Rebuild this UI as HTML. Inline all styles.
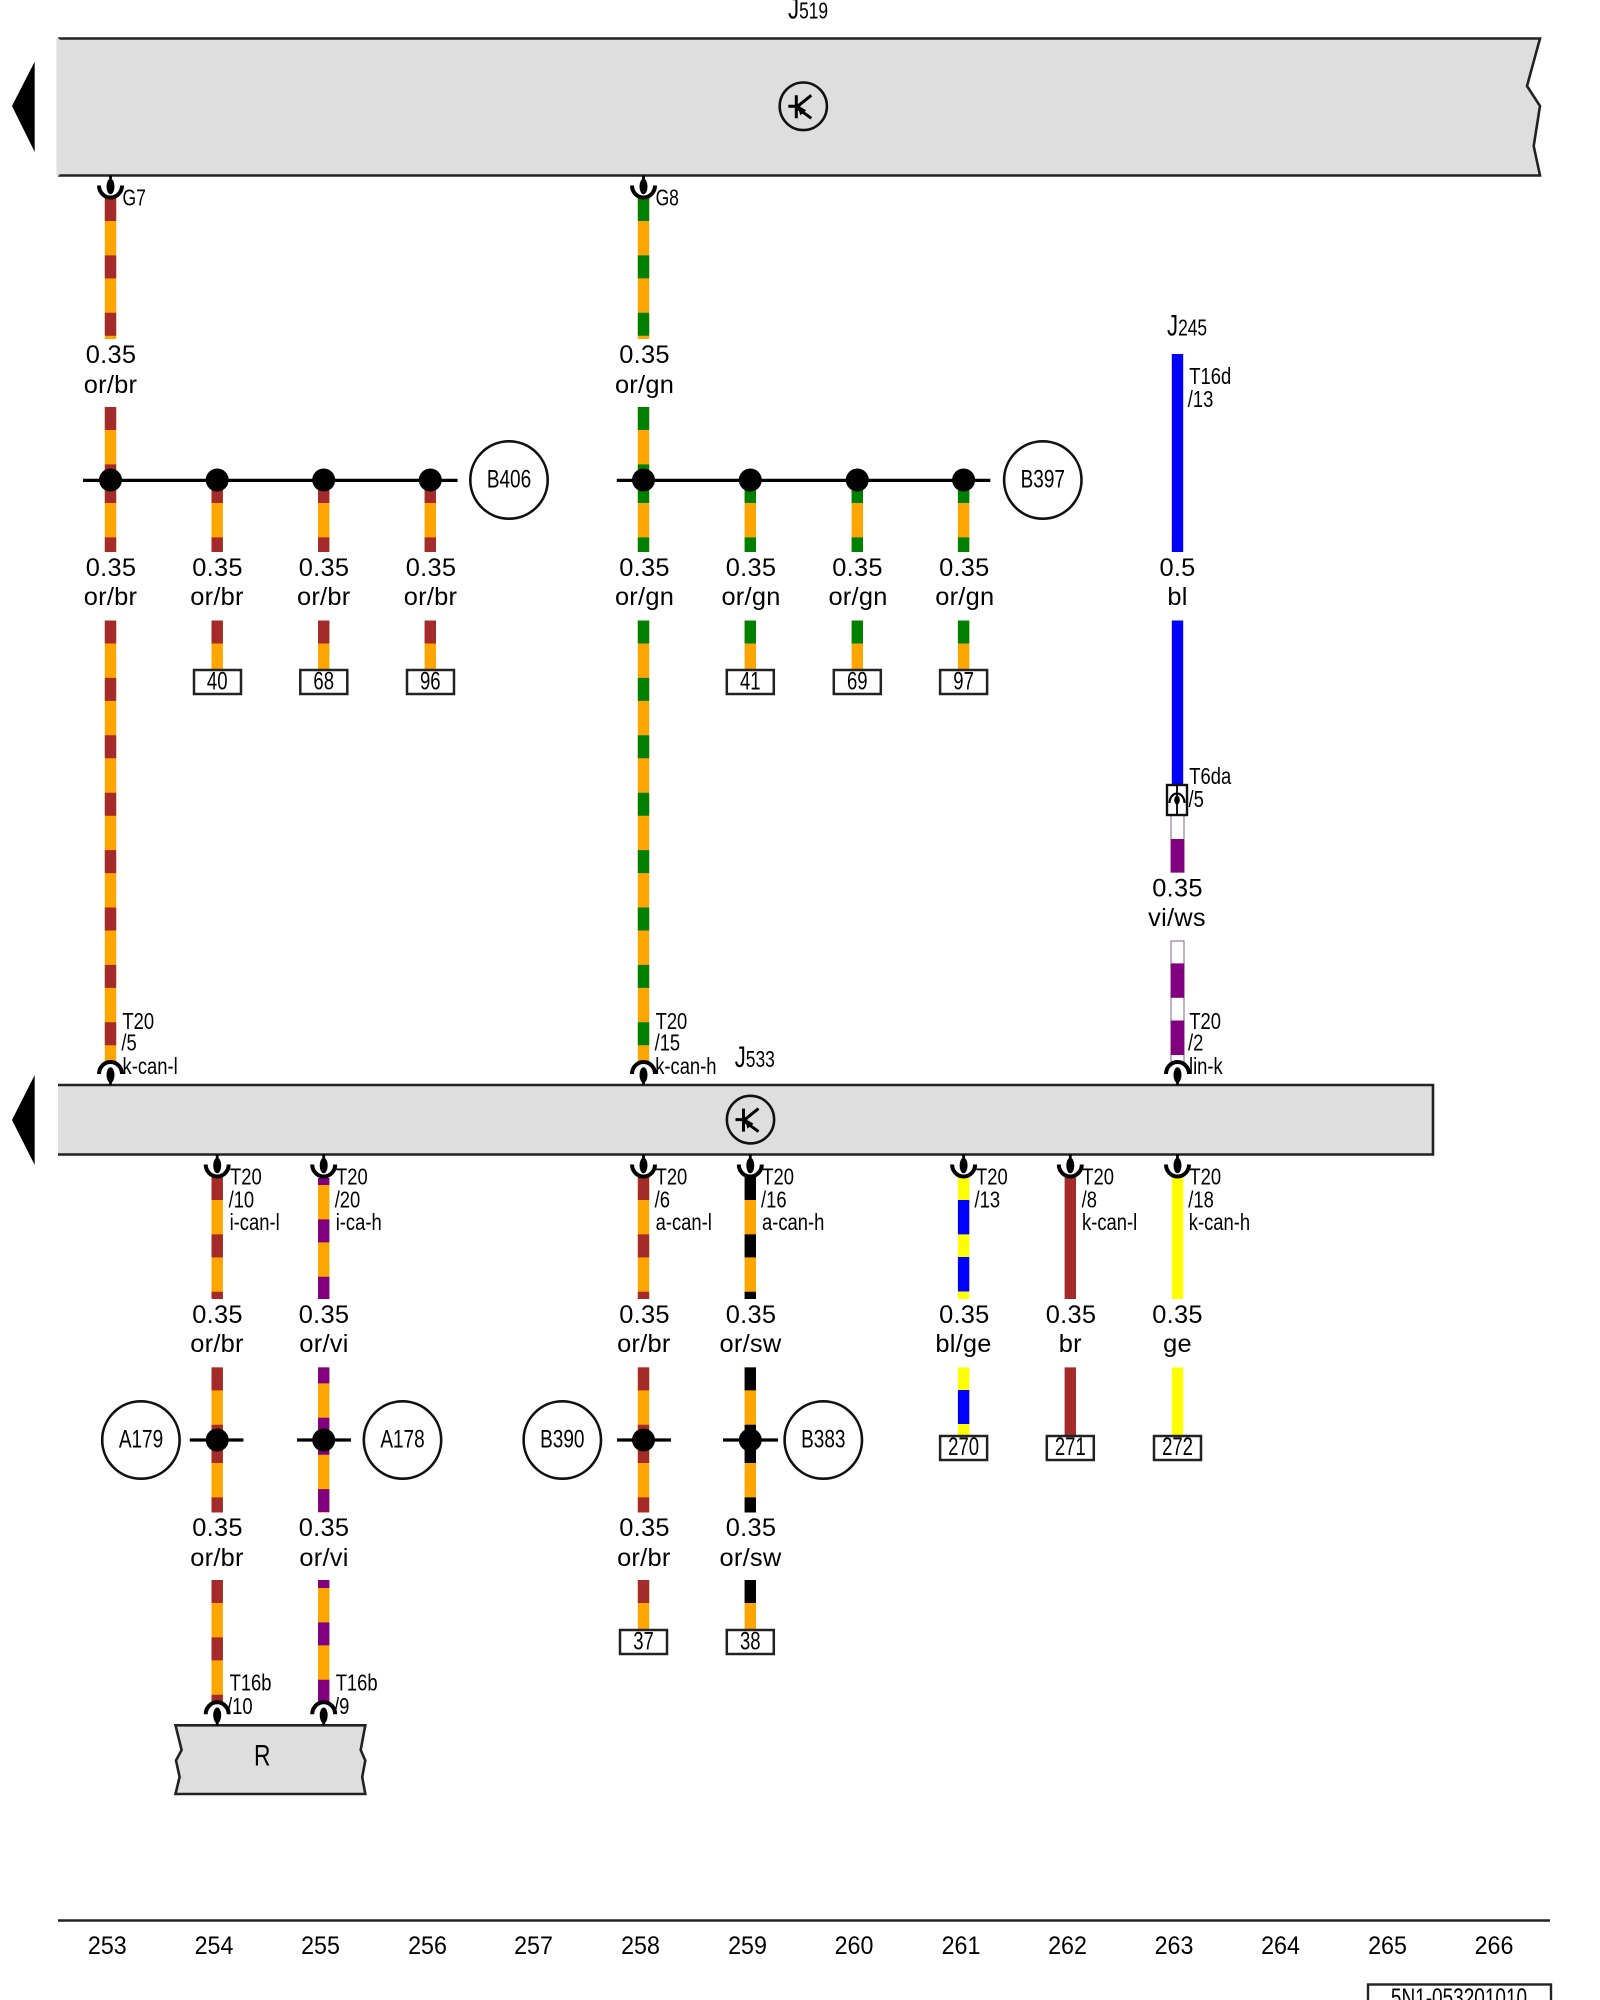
<!DOCTYPE html>
<html>
<head>
<meta charset="utf-8">
<style>
html,body{margin:0;padding:0;background:#fff}
svg{display:block}
text{font-family:"Liberation Sans",sans-serif;fill:#000}
.t{font-size:25.4px;text-anchor:middle;letter-spacing:.25px}
.s{font-size:23px}
.n{font-size:25px;text-anchor:middle}
.f{font-size:25px;text-anchor:middle}
.j{font-size:30px}
line.w{stroke-width:11.4}
.o{stroke:#ffa500}.b{stroke:#a52a2a}.g{stroke:#008000}.v{stroke:#800080}.k{stroke:#000}.y{stroke:#ffff00}.u{stroke:#0000ff}
.d{stroke-dasharray:23 34.4}
.box{fill:#fff;stroke:#222;stroke-width:2.5}
.c{fill:#fff;stroke:#111;stroke-width:2.6}
.bar{fill:#dedede;stroke:#222;stroke-width:2.6}
.bus{stroke:#000;stroke-width:3.2}
</style>
</head>
<body>
<svg width="1600" height="2000" viewBox="0 0 1600 2000" xmlns="http://www.w3.org/2000/svg">
<defs>
<g id="cd"><line x1="0" y1="0" x2="0" y2="10" stroke="#000" stroke-width="2.8"/><ellipse cx="0" cy="11" rx="4" ry="7.8" fill="#000"/><path d="M-11.5 10A11.5 12 0 0 0 11.5 10" fill="none" stroke="#000" stroke-width="4"/></g>
<g id="cu"><line x1="0" y1="0" x2="0" y2="-8" stroke="#000" stroke-width="2.8"/><ellipse cx="0" cy="-10" rx="4" ry="7.8" fill="#000"/><path d="M-11.5 -11A11.5 12 0 0 1 11.5 -11" fill="none" stroke="#000" stroke-width="4"/></g>
<g id="tr"><ellipse cx="0" cy="0" rx="23.6" ry="23.8" fill="none" stroke="#111" stroke-width="2.6"/><path d="M-15 0H-3M-7 -11V12M-7 1L8 -11M-7 1L8 12" fill="none" stroke="#000" stroke-width="3"/><path d="M-6 -1L3 4L-3 9z" fill="#000"/></g>
</defs>

<!-- bars -->
<path class="bar" d="M58 38.5H1540L1527 86L1540 106L1533.7 146L1540 175.5H58"/>
<line x1="58" y1="38.5" x2="58" y2="175.5" stroke="#dedede" stroke-width="3"/>
<path d="M12 106L34.7 61.6V152z" fill="#000"/>
<use href="#tr" x="803.3" y="106.3"/>
<path class="bar" d="M58 1085H1433V1154.5H58"/>
<path d="M12 1120L34.7 1075V1165z" fill="#000"/>
<use href="#tr" x="750.5" y="1119.6"/>
<path class="bar" d="M175.5 1725.3H365.3L360.7 1750L365.3 1760.5L362.2 1777L365.3 1794H175.5L179.6 1777L176 1760.5L181.6 1750z"/>

<!-- col 0 -->
<g transform="translate(110.5 0)" fill="none">
<line class="w o" y1="198" y2="339"/><line class="w b d" y1="198" y2="339"/>
<line class="w o" y1="407" y2="480"/><line class="w b d" y1="407" y2="480"/>
<line class="w o" y1="480" y2="552"/><line class="w b d" y1="480" y2="552"/>
<line class="w o" y1="620.5" y2="1062"/><line class="w b d" y1="620.5" y2="1062"/>
</g>
<!-- col 5 upper -->
<g transform="translate(643.5 0)">
<line class="w o" y1="198" y2="339"/><line class="w g d" y1="198" y2="339"/>
<line class="w o" y1="407" y2="480"/><line class="w g d" y1="407" y2="480"/>
<line class="w o" y1="480" y2="552"/><line class="w g d" y1="480" y2="552"/>
<line class="w o" y1="620.5" y2="1062"/><line class="w g d" y1="620.5" y2="1062"/>
</g>
<!-- short upper -->
<g transform="translate(217.2 0)"><line class="w o" y1="480" y2="552"/><line class="w b d" y1="480" y2="552"/><line class="w o" y1="620.5" y2="670"/><line class="w b d" y1="620.5" y2="670"/></g>
<g transform="translate(323.7 0)"><line class="w o" y1="480" y2="552"/><line class="w b d" y1="480" y2="552"/><line class="w o" y1="620.5" y2="670"/><line class="w b d" y1="620.5" y2="670"/></g>
<g transform="translate(430.3 0)"><line class="w o" y1="480" y2="552"/><line class="w b d" y1="480" y2="552"/><line class="w o" y1="620.5" y2="670"/><line class="w b d" y1="620.5" y2="670"/></g>
<g transform="translate(750.3 0)"><line class="w o" y1="480" y2="552"/><line class="w g d" y1="480" y2="552"/><line class="w o" y1="620.5" y2="670"/><line class="w g d" y1="620.5" y2="670"/></g>
<g transform="translate(857.3 0)"><line class="w o" y1="480" y2="552"/><line class="w g d" y1="480" y2="552"/><line class="w o" y1="620.5" y2="670"/><line class="w g d" y1="620.5" y2="670"/></g>
<g transform="translate(963.6 0)"><line class="w o" y1="480" y2="552"/><line class="w g d" y1="480" y2="552"/><line class="w o" y1="620.5" y2="670"/><line class="w g d" y1="620.5" y2="670"/></g>

<!-- col 10 upper -->
<g transform="translate(1177.5 0)">
<line class="w u" y1="354" y2="552"/><line class="w u" y1="620.5" y2="785"/>
</g>
<rect x="1171" y="815" width="13" height="57.3" fill="#fff" stroke="#806080" stroke-width="1"/>
<rect x="1170.7" y="839" width="13.6" height="33.3" fill="#800080"/>
<rect x="1171" y="941" width="13" height="121" fill="#fff" stroke="#806080" stroke-width="1"/>
<rect x="1170.7" y="963.4" width="13.6" height="34.4" fill="#800080"/>
<rect x="1170.7" y="1020.5" width="13.6" height="34.5" fill="#800080"/>
<rect x="1167" y="785" width="20" height="30" fill="#fff" stroke="#111" stroke-width="2.4"/>
<line x1="1177" y1="785" x2="1177" y2="815" stroke="#000" stroke-width="1.8"/>
<ellipse cx="1177" cy="800" rx="2.8" ry="4.5" fill="#000"/>
<path d="M1169.5 803A7.5 9.5 0 0 1 1184.5 803" fill="none" stroke="#000" stroke-width="2.2"/>

<!-- lower wires -->
<g transform="translate(217.2 0)">
<line class="w o" y1="1177" y2="1299"/><line class="w b d" y1="1177" y2="1299"/>
<line class="w o" y1="1367.4" y2="1440"/><line class="w b d" y1="1367.4" y2="1440"/>
<line class="w o" y1="1440" y2="1512.5"/><line class="w b d" y1="1440" y2="1512.5"/>
<line class="w o" y1="1580" y2="1702"/><line class="w b d" y1="1580" y2="1702"/>
</g>
<g transform="translate(323.7 0)">
<line class="w o" y1="1178" y2="1299"/><line class="w v d" y1="1178" y2="1299" style="stroke-dashoffset:16"/>
<line class="w o" y1="1367.4" y2="1440"/><line class="w v d" y1="1367.4" y2="1440" style="stroke-dashoffset:7"/>
<line class="w o" y1="1440" y2="1512.5"/><line class="w v d" y1="1440" y2="1512.5" style="stroke-dashoffset:8.3"/>
<line class="w o" y1="1580" y2="1702"/><line class="w v d" y1="1580" y2="1702" style="stroke-dashoffset:15"/>
</g>
<g transform="translate(643.5 0)">
<line class="w o" y1="1177" y2="1299"/><line class="w b d" y1="1177" y2="1299"/>
<line class="w o" y1="1367.4" y2="1440"/><line class="w b d" y1="1367.4" y2="1440"/>
<line class="w o" y1="1440" y2="1512.5"/><line class="w b d" y1="1440" y2="1512.5"/>
<line class="w o" y1="1580" y2="1630"/><line class="w b d" y1="1580" y2="1630"/>
</g>
<g transform="translate(750.3 0)">
<line class="w o" y1="1177" y2="1299"/><line class="w k d" y1="1177" y2="1299"/>
<line class="w o" y1="1367.4" y2="1440"/><line class="w k d" y1="1367.4" y2="1440"/>
<line class="w o" y1="1440" y2="1512.5"/><line class="w k d" y1="1440" y2="1512.5"/>
<line class="w o" y1="1580" y2="1630"/><line class="w k d" y1="1580" y2="1630"/>
</g>
<g transform="translate(963.6 0)">
<line class="w y" y1="1177" y2="1299"/>
<line class="w u" y1="1200" y2="1234.4"/><line class="w u" y1="1257" y2="1291.5"/>
<line class="w y" y1="1367.4" y2="1436"/><line class="w u" y1="1390" y2="1424"/>
</g>
<g transform="translate(1070.3 0)"><line class="w b" y1="1177" y2="1299"/><line class="w b" y1="1367.4" y2="1436"/></g>
<g transform="translate(1177.5 0)"><line class="w y" y1="1177" y2="1299"/><line class="w y" y1="1367.4" y2="1436"/></g>

<!-- connectors -->
<use href="#cd" x="110.5" y="175.5"/><use href="#cd" x="643.5" y="175.5"/>
<use href="#cu" x="110.5" y="1085"/><use href="#cu" x="643.5" y="1085"/><use href="#cu" x="1177.5" y="1085"/>
<use href="#cd" x="217.2" y="1154.5"/><use href="#cd" x="323.7" y="1154.5"/><use href="#cd" x="643.5" y="1154.5"/><use href="#cd" x="750.3" y="1154.5"/><use href="#cd" x="963.6" y="1154.5"/><use href="#cd" x="1070.3" y="1154.5"/><use href="#cd" x="1177.5" y="1154.5"/>
<use href="#cu" x="217.2" y="1725.3"/><use href="#cu" x="323.7" y="1725.3"/>

<!-- buses and nodes -->
<line class="bus" x1="83" y1="480.4" x2="457.6" y2="480.4"/>
<line class="bus" x1="616.8" y1="480.4" x2="990.3" y2="480.4"/>
<g fill="#000">
<circle cx="110.5" cy="480" r="11.5"/><circle cx="217.2" cy="480" r="11.5"/><circle cx="323.7" cy="480" r="11.5"/><circle cx="430.3" cy="480" r="11.5"/>
<circle cx="643.5" cy="480" r="11.5"/><circle cx="750.3" cy="480" r="11.5"/><circle cx="857.3" cy="480" r="11.5"/><circle cx="963.6" cy="480" r="11.5"/>
<circle cx="217.2" cy="1440" r="11.5"/><circle cx="323.7" cy="1440" r="11.5"/><circle cx="643.5" cy="1440" r="11.5"/><circle cx="750.3" cy="1440" r="11.5"/>
</g>
<line class="bus" x1="189.8" y1="1440" x2="243.4" y2="1440"/>
<line class="bus" x1="297" y1="1440" x2="351" y2="1440"/>
<line class="bus" x1="617" y1="1440" x2="671" y2="1440"/>
<line class="bus" x1="723" y1="1440" x2="778" y2="1440"/>

<!-- circles -->
<circle class="c" cx="509" cy="480" r="38.7"/>
<circle class="c" cx="1042.8" cy="480" r="38.7"/>
<circle class="c" cx="140.9" cy="1440" r="38.7"/>
<circle class="c" cx="402.5" cy="1440" r="38.7"/>
<circle class="c" cx="562.3" cy="1440" r="38.7"/>
<circle class="c" cx="823.3" cy="1440" r="38.7"/>
<text class="n" transform="translate(509 487.5) scale(.76 1)">B406</text>
<text class="n" transform="translate(1042.8 487.5) scale(.76 1)">B397</text>
<text class="n" transform="translate(141 1447.5) scale(.76 1)">A179</text>
<text class="n" transform="translate(402.5 1447.5) scale(.76 1)">A178</text>
<text class="n" transform="translate(562.3 1447.5) scale(.76 1)">B390</text>
<text class="n" transform="translate(823.3 1447.5) scale(.76 1)">B383</text>

<!-- number boxes -->
<rect class="box" x="194" y="670" width="47" height="24"/><text class="n" transform="translate(217.2 689.5) scale(.74 1)">40</text>
<rect class="box" x="300.3" y="670" width="47" height="24"/><text class="n" transform="translate(323.7 689.5) scale(.74 1)">68</text>
<rect class="box" x="407" y="670" width="47" height="24"/><text class="n" transform="translate(430.3 689.5) scale(.74 1)">96</text>
<rect class="box" x="726.8" y="670" width="47" height="24"/><text class="n" transform="translate(750.3 689.5) scale(.74 1)">41</text>
<rect class="box" x="833.8" y="670" width="47" height="24"/><text class="n" transform="translate(857.3 689.5) scale(.74 1)">69</text>
<rect class="box" x="940.1" y="670" width="47" height="24"/><text class="n" transform="translate(963.6 689.5) scale(.74 1)">97</text>
<rect class="box" x="620" y="1630" width="47" height="24"/><text class="n" transform="translate(643.5 1649.5) scale(.74 1)">37</text>
<rect class="box" x="726.8" y="1630" width="47" height="24"/><text class="n" transform="translate(750.3 1649.5) scale(.74 1)">38</text>
<rect class="box" x="940.1" y="1436" width="47" height="24"/><text class="n" transform="translate(963.6 1455) scale(.74 1)">270</text>
<rect class="box" x="1046.8" y="1436" width="47" height="24"/><text class="n" transform="translate(1070.3 1455) scale(.74 1)">271</text>
<rect class="box" x="1154" y="1436" width="47" height="24"/><text class="n" transform="translate(1177.5 1455) scale(.74 1)">272</text>

<!-- size/color labels -->
<text class="t" x="111" y="363">0.35</text><text class="t" x="110.5" y="393">or/br</text>
<text class="t" x="644.5" y="363">0.35</text><text class="t" x="644.5" y="393">or/gn</text>
<text class="t" x="111" y="576">0.35</text><text class="t" x="110.5" y="605.2">or/br</text>
<text class="t" x="217.5" y="576">0.35</text><text class="t" x="217" y="605.2">or/br</text>
<text class="t" x="324" y="576">0.35</text><text class="t" x="323.7" y="605.2">or/br</text>
<text class="t" x="431" y="576">0.35</text><text class="t" x="430.5" y="605.2">or/br</text>
<text class="t" x="644.5" y="576">0.35</text><text class="t" x="644.5" y="605.2">or/gn</text>
<text class="t" x="751" y="576">0.35</text><text class="t" x="751" y="605.2">or/gn</text>
<text class="t" x="857.5" y="576">0.35</text><text class="t" x="858" y="605.2">or/gn</text>
<text class="t" x="964.3" y="576">0.35</text><text class="t" x="964.8" y="605.2">or/gn</text>
<text class="t" x="1177.5" y="576">0.5</text><text class="t" x="1177.5" y="605.2">bl</text>
<text class="t" x="1177.5" y="896.4">0.35</text><text class="t" x="1177" y="926">vi/ws</text>
<text class="t" x="217.5" y="1322.8">0.35</text><text class="t" x="217" y="1351.8">or/br</text>
<text class="t" x="324" y="1322.8">0.35</text><text class="t" x="324" y="1351.8">or/vi</text>
<text class="t" x="644.5" y="1322.8">0.35</text><text class="t" x="643.8" y="1351.8">or/br</text>
<text class="t" x="751" y="1322.8">0.35</text><text class="t" x="750.5" y="1351.8">or/sw</text>
<text class="t" x="964.3" y="1322.8">0.35</text><text class="t" x="963.5" y="1351.8">bl/ge</text>
<text class="t" x="1071" y="1322.8">0.35</text><text class="t" x="1070.3" y="1351.8">br</text>
<text class="t" x="1177.5" y="1322.8">0.35</text><text class="t" x="1177.5" y="1351.8">ge</text>
<text class="t" x="217.5" y="1536">0.35</text><text class="t" x="217" y="1566">or/br</text>
<text class="t" x="324" y="1536">0.35</text><text class="t" x="324" y="1566">or/vi</text>
<text class="t" x="644.5" y="1536">0.35</text><text class="t" x="643.8" y="1566">or/br</text>
<text class="t" x="751" y="1536">0.35</text><text class="t" x="750.5" y="1566">or/sw</text>

<!-- component names -->
<text class="j" transform="translate(788 18.5) scale(.74 1)">J<tspan font-size="23.5">519</tspan></text>
<text class="j" transform="translate(1167 335.5) scale(.74 1)">J<tspan font-size="23.5">245</tspan></text>
<text class="j" transform="translate(734.7 1067) scale(.74 1)">J<tspan font-size="23.5">533</tspan></text>
<text font-size="30" transform="translate(254 1765.5) scale(.76 1)">R</text>

<!-- pin labels -->
<text class="s" transform="translate(122.5 205.5) scale(.76 1)">G7</text>
<text class="s" transform="translate(655.6 205.5) scale(.76 1)">G8</text>
<text class="s" transform="translate(1189.3 384) scale(.8 1)">T16d</text>
<text class="s" transform="translate(1187.8 407) scale(.8 1)">/13</text>
<text class="s" transform="translate(1189.3 784) scale(.8 1)">T6da</text>
<text class="s" transform="translate(1188.5 807) scale(.8 1)">/5</text>

<text class="s" transform="translate(122.4 1029) scale(.8 1)">T20</text>
<text class="s" transform="translate(121.4 1050.5) scale(.8 1)">/5</text>
<text class="s" transform="translate(122.5 1074) scale(.8 1)">k-can-l</text>
<text class="s" transform="translate(655.6 1029) scale(.8 1)">T20</text>
<text class="s" transform="translate(654.6 1050.5) scale(.8 1)">/15</text>
<text class="s" transform="translate(655.2 1074) scale(.8 1)">k-can-h</text>
<text class="s" transform="translate(1189.3 1029) scale(.8 1)">T20</text>
<text class="s" transform="translate(1188 1050.5) scale(.8 1)">/2</text>
<text class="s" transform="translate(1189 1074) scale(.8 1)">lin-k</text>

<text class="s" transform="translate(230 1184.5) scale(.8 1)">T20</text>
<text class="s" transform="translate(228.6 1207.5) scale(.8 1)">/10</text>
<text class="s" transform="translate(229.6 1230) scale(.8 1)">i-can-l</text>
<text class="s" transform="translate(336 1184.5) scale(.8 1)">T20</text>
<text class="s" transform="translate(334.7 1207.5) scale(.8 1)">/20</text>
<text class="s" transform="translate(335.7 1230) scale(.8 1)">i-ca-h</text>
<text class="s" transform="translate(655.6 1184.5) scale(.8 1)">T20</text>
<text class="s" transform="translate(654.6 1207.5) scale(.8 1)">/6</text>
<text class="s" transform="translate(655.6 1230) scale(.8 1)">a-can-l</text>
<text class="s" transform="translate(762.3 1184.5) scale(.8 1)">T20</text>
<text class="s" transform="translate(761 1207.5) scale(.8 1)">/16</text>
<text class="s" transform="translate(762 1230) scale(.8 1)">a-can-h</text>
<text class="s" transform="translate(976 1184.5) scale(.8 1)">T20</text>
<text class="s" transform="translate(974.5 1207.5) scale(.8 1)">/13</text>
<text class="s" transform="translate(1082.3 1184.5) scale(.8 1)">T20</text>
<text class="s" transform="translate(1081.6 1207.5) scale(.8 1)">/8</text>
<text class="s" transform="translate(1082 1230) scale(.8 1)">k-can-l</text>
<text class="s" transform="translate(1189.4 1184.5) scale(.8 1)">T20</text>
<text class="s" transform="translate(1188.3 1207.5) scale(.8 1)">/18</text>
<text class="s" transform="translate(1188.8 1230) scale(.8 1)">k-can-h</text>

<text class="s" transform="translate(229.6 1690.5) scale(.8 1)">T16b</text>
<text class="s" transform="translate(227 1713.8) scale(.8 1)">/10</text>
<text class="s" transform="translate(335.7 1690.5) scale(.8 1)">T16b</text>
<text class="s" transform="translate(334 1713.8) scale(.8 1)">/9</text>

<!-- footer -->
<line x1="58" y1="1920.5" x2="1550" y2="1920.5" stroke="#222" stroke-width="2.6"/>
<text class="f" transform="translate(107.3 1954) scale(.93 1)">253</text>
<text class="f" transform="translate(214 1954) scale(.93 1)">254</text>
<text class="f" transform="translate(320.5 1954) scale(.93 1)">255</text>
<text class="f" transform="translate(427.5 1954) scale(.93 1)">256</text>
<text class="f" transform="translate(533.5 1954) scale(.93 1)">257</text>
<text class="f" transform="translate(640.5 1954) scale(.93 1)">258</text>
<text class="f" transform="translate(747.5 1954) scale(.93 1)">259</text>
<text class="f" transform="translate(854 1954) scale(.93 1)">260</text>
<text class="f" transform="translate(961 1954) scale(.93 1)">261</text>
<text class="f" transform="translate(1067.5 1954) scale(.93 1)">262</text>
<text class="f" transform="translate(1174 1954) scale(.93 1)">263</text>
<text class="f" transform="translate(1280.5 1954) scale(.93 1)">264</text>
<text class="f" transform="translate(1387.5 1954) scale(.93 1)">265</text>
<text class="f" transform="translate(1494 1954) scale(.93 1)">266</text>
<rect x="1368" y="1984.5" width="183" height="30" fill="#fff" stroke="#222" stroke-width="2.4"/>
<text class="n" transform="translate(1459 2006) scale(.76 1)">5N1-053201010</text>
</svg>
</body>
</html>
